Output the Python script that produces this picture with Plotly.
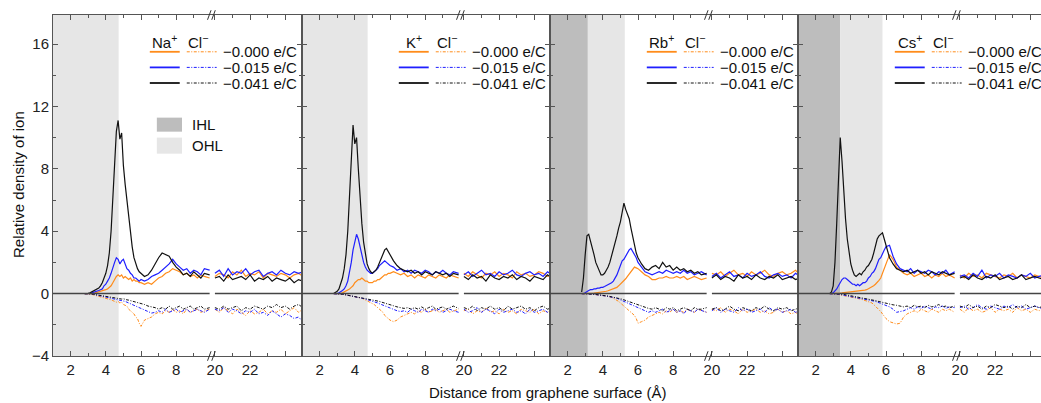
import plotly.graph_objects as go

# ---------------- data ----------------
X_LEFT = [2.8, 2.9, 3.0, 3.1, 3.2, 3.3, 3.4, 3.5, 3.6, 3.7, 3.8, 3.9, 4.0, 4.1, 4.2, 4.3, 4.4,
          4.5, 4.6, 4.7, 4.8, 4.9, 5.0, 5.1, 5.2, 5.3, 5.4, 5.5, 5.6, 5.7, 5.8, 5.9, 6.0,
          6.2, 6.4, 6.6, 6.8, 7.0, 7.2, 7.4, 7.6, 7.8, 8.0, 8.2, 8.4, 8.6, 8.8, 9.0, 9.2, 9.4, 9.6, 9.9]
X_RIGHT = [20.0, 20.25, 20.5, 20.75, 21.0, 21.25, 21.5, 21.75, 22.0, 22.25, 22.5, 22.75,
           23.0, 23.25, 23.5, 23.75, 24.0, 24.25, 24.5, 24.75, 25.0]

CATIONS = ["Na", "K", "Rb", "Cs"]
CHARGES = ["\u22120.000 e/C", "\u22120.015 e/C", "\u22120.041 e/C"]
IHL_END = [None, None, 3.15, 3.4]
OHL_END = [4.73, 4.73, 5.25, 5.8]

# Na+
NA_C0_L = [0, 0, 0, 0, 0, 0.02, 0.05, 0.08, 0.1, 0.12, 0.15, 0.2, 0.25, 0.3, 0.4, 0.5, 0.7, 0.9, 1.1, 1.2, 1.1, 1.2, 1.0, 1.1, 1.0, 0.9, 1.0, 0.8, 0.9, 0.8, 0.8, 0.7, 0.7] + \
          [0.6, 0.7, 0.6, 0.8, 1.0, 1.1, 1.3, 1.4, 1.6, 1.5, 1.4, 1.2, 1.3, 1.1, 1.2, 1.0, 1.2, 1.1, 1.0]
NA_C15_L = [0, 0, 0, 0.02, 0.05, 0.08, 0.1, 0.15, 0.2, 0.25, 0.3, 0.5, 0.6, 0.8, 1.0, 1.3, 1.7, 2.0, 2.3, 2.2, 1.9, 2.1, 2.2, 1.9, 1.6, 1.5, 1.3, 1.2, 1.0, 1.0, 0.9, 0.8, 0.9] + \
           [0.8, 0.9, 1.1, 1.2, 1.3, 1.5, 1.7, 1.9, 2.2, 1.9, 1.7, 1.5, 1.6, 1.3, 1.5, 1.4, 1.2, 1.6, 1.5]
NA_C41_L = [0, 0, 0.02, 0.05, 0.1, 0.15, 0.2, 0.3, 0.35, 0.5, 0.7, 1.0, 1.3, 1.8, 2.6, 4.0, 6.0, 8.2, 10.4, 11.1, 9.9, 10.3, 8.2, 7.0, 5.9, 4.8, 4.0, 3.0, 2.3, 1.9, 1.6, 1.4, 1.3] + \
           [1.1, 1.2, 1.5, 1.9, 2.3, 2.6, 2.5, 2.4, 2.0, 1.7, 1.5, 1.2, 1.3, 1.1, 1.4, 1.2, 1.0, 1.3, 1.2]
NA_A0_L = [0, 0, 0, -0.02, -0.05, -0.08, -0.1, -0.12, -0.15, -0.18, -0.2, -0.25, -0.28, -0.3, -0.35, -0.4, -0.45, -0.5, -0.55, -0.5, -0.6, -0.55, -0.7, -0.75, -0.8, -1.0, -1.1, -1.2, -1.3, -1.5, -1.6, -1.9, -2.1] + \
          [-1.7, -1.6, -1.5, -1.3, -1.2, -1.3, -1.1, -1.2, -1.0, -1.2, -1.1, -1.3, -1.0, -1.2, -1.1, -1.0, -1.2, -1.1, -1.0]
NA_A15_L = [0, 0, 0, 0, -0.02, -0.05, -0.07, -0.1, -0.12, -0.15, -0.17, -0.2, -0.22, -0.25, -0.27, -0.3, -0.32, -0.35, -0.37, -0.4, -0.42, -0.45, -0.48, -0.5, -0.55, -0.6, -0.65, -0.7, -0.75, -0.8, -0.85, -0.9, -1.0] + \
           [-1.1, -1.2, -1.25, -1.2, -1.1, -1.2, -1.0, -1.2, -1.1, -1.0, -1.2, -1.1, -1.0, -1.2, -1.1, -1.0, -1.1, -1.2, -1.0]
NA_A41_L = [0, 0, 0, 0, -0.02, -0.04, -0.06, -0.08, -0.1, -0.12, -0.14, -0.16, -0.18, -0.2, -0.22, -0.24, -0.25, -0.27, -0.3, -0.28, -0.32, -0.35, -0.33, -0.38, -0.4, -0.42, -0.45, -0.48, -0.5, -0.55, -0.6, -0.62, -0.65] + \
           [-0.7, -0.8, -0.85, -0.9, -1.0, -0.9, -1.0, -0.8, -1.0, -0.9, -0.8, -1.0, -0.9, -0.8, -1.0, -0.9, -0.8, -1.0, -0.9]
NA_C0_R = [1.1, 1.3, 1.2, 1.0, 1.4, 1.2, 1.5, 1.1, 1.3, 1.2, 1.4, 1.0, 1.3, 1.2, 1.1, 1.3, 1.2, 1.0, 1.2, 1.3, 1.1]
NA_C15_R = [1.3, 1.5, 1.1, 1.6, 1.2, 1.4, 1.3, 1.6, 1.2, 1.4, 1.5, 1.1, 1.3, 1.4, 1.2, 1.5, 1.3, 1.2, 1.4, 1.3, 1.4]
NA_C41_R = [1.0, 1.1, 0.8, 1.2, 0.9, 1.0, 1.1, 0.9, 1.2, 0.8, 1.0, 0.9, 1.1, 0.8, 1.0, 0.9, 0.8, 1.0, 0.7, 0.9, 0.8]
NA_A0_R = [-1.0, -1.2, -0.9, -1.1, -1.3, -1.0, -1.2, -1.4, -1.1, -1.3, -1.2, -1.0, -1.3, -1.1, -1.2, -1.0, -1.3, -1.1, -0.9, -1.2, -1.0]
NA_A15_R = [-1.0, -1.1, -0.9, -1.2, -1.0, -1.1, -1.3, -1.1, -1.2, -1.0, -1.3, -1.2, -1.4, -1.1, -1.3, -1.5, -1.3, -1.4, -1.6, -1.5, -1.8]
NA_A41_R = [-0.9, -1.0, -0.8, -1.0, -0.9, -0.8, -1.1, -0.9, -1.0, -0.8, -0.9, -1.0, -0.8, -0.9, -0.7, -0.9, -0.8, -1.0, -0.8, -0.7, -0.9]

# K+
K_C0_L = [0, 0, 0, 0, 0.02, 0.05, 0.1, 0.15, 0.2, 0.3, 0.4, 0.5, 0.7, 0.8, 0.9, 0.9, 1.0, 0.9, 0.8, 0.8, 0.7, 0.7, 0.7, 0.8, 0.8, 0.9, 0.9, 1.0, 1.1, 1.2, 1.2, 1.3, 1.3] + \
         [1.4, 1.3, 1.2, 1.3, 1.1, 1.2, 1.0, 1.2, 1.1, 1.0, 1.2, 1.1, 1.0, 1.2, 1.1, 1.0, 1.2, 1.1, 1.0]
K_C15_L = [0, 0, 0, 0.05, 0.1, 0.2, 0.3, 0.5, 0.8, 1.3, 2.0, 2.8, 3.4, 3.8, 3.5, 3.0, 2.4, 2.0, 1.7, 1.5, 1.4, 1.3, 1.3, 1.4, 1.5, 1.6, 1.8, 1.9, 2.0, 2.1, 2.0, 1.9, 1.8] + \
          [1.7, 1.5, 1.6, 1.4, 1.5, 1.3, 1.5, 1.4, 1.3, 1.5, 1.4, 1.2, 1.4, 1.3, 1.5, 1.3, 1.2, 1.4, 1.3]
K_C41_L = [0, 0.05, 0.15, 0.3, 0.6, 1.0, 1.6, 2.5, 4.0, 6.5, 9.0, 10.8, 9.6, 10.0, 8.0, 6.0, 4.5, 3.3, 2.5, 1.9, 1.6, 1.4, 1.3, 1.4, 1.5, 1.7, 2.0, 2.3, 2.6, 2.8, 2.9, 2.7, 2.5] + \
          [2.1, 1.8, 1.6, 1.5, 1.4, 1.5, 1.3, 1.4, 1.2, 1.4, 1.3, 1.2, 1.4, 1.3, 1.2, 1.3, 1.1, 1.3, 1.2]
K_A0_L = [0, 0, 0, 0, -0.02, -0.04, -0.06, -0.08, -0.1, -0.12, -0.15, -0.18, -0.2, -0.22, -0.25, -0.28, -0.3, -0.35, -0.4, -0.45, -0.5, -0.55, -0.6, -0.7, -0.8, -0.9, -1.0, -1.1, -1.2, -1.4, -1.5, -1.6, -1.7] + \
         [-1.8, -1.7, -1.5, -1.4, -1.3, -1.2, -1.3, -1.1, -1.2, -1.0, -1.2, -1.1, -1.0, -1.2, -1.1, -1.0, -1.2, -1.1, -1.0]
K_A15_L = [0, 0, 0, 0, -0.02, -0.04, -0.06, -0.08, -0.1, -0.12, -0.14, -0.16, -0.18, -0.2, -0.23, -0.26, -0.29, -0.32, -0.35, -0.38, -0.41, -0.44, -0.47, -0.5, -0.55, -0.6, -0.65, -0.7, -0.75, -0.8, -0.85, -0.9, -0.95] + \
          [-1.0, -1.1, -1.15, -1.1, -1.2, -1.0, -1.1, -1.2, -1.0, -1.1, -1.2, -1.0, -1.1, -1.0, -1.2, -1.1, -1.0, -1.1, -1.2]
K_A41_L = [0, 0, 0, 0, -0.02, -0.04, -0.06, -0.08, -0.1, -0.12, -0.14, -0.16, -0.18, -0.2, -0.22, -0.24, -0.26, -0.28, -0.3, -0.32, -0.34, -0.36, -0.38, -0.4, -0.43, -0.46, -0.5, -0.54, -0.58, -0.62, -0.66, -0.7, -0.72] + \
          [-0.78, -0.85, -0.9, -0.95, -0.9, -1.0, -0.9, -1.0, -0.85, -1.0, -0.9, -0.8, -1.0, -0.9, -0.85, -1.0, -0.9, -0.8, -0.95]
K_C0_R = [1.3, 1.1, 1.4, 1.2, 1.0, 1.3, 1.2, 1.4, 1.1, 1.3, 1.2, 1.0, 1.4, 1.2, 1.3, 1.1, 1.2, 1.4, 1.3, 1.1, 1.2]
K_C15_R = [1.2, 1.4, 1.1, 1.3, 1.5, 1.2, 1.3, 1.1, 1.4, 1.2, 1.3, 1.5, 1.2, 1.1, 1.3, 1.4, 1.2, 1.3, 1.1, 1.4, 1.2]
K_C41_R = [1.1, 0.9, 1.2, 1.0, 1.1, 0.8, 1.2, 1.0, 0.9, 1.1, 1.0, 1.2, 0.9, 1.1, 1.0, 0.8, 1.1, 1.0, 0.9, 1.2, 1.0]
K_A0_R = [-1.1, -1.0, -1.3, -1.1, -1.2, -0.9, -1.2, -1.1, -1.3, -1.0, -1.2, -1.1, -1.3, -1.0, -1.1, -1.2, -1.0, -1.3, -1.1, -1.2, -1.0]
K_A15_R = [-1.0, -1.2, -1.1, -0.9, -1.2, -1.0, -1.1, -1.3, -1.0, -1.2, -1.1, -1.0, -1.2, -1.1, -1.3, -1.0, -1.2, -1.1, -1.0, -1.2, -1.1]
K_A41_R = [-0.9, -1.0, -0.8, -1.1, -0.9, -1.0, -0.8, -1.0, -0.9, -1.1, -0.8, -1.0, -0.9, -0.8, -1.0, -0.9, -1.1, -0.9, -0.8, -1.0, -0.9]

# Rb+
RB_C0_L = [0, 0, 0, 0, 0, 0, 0.02, 0.03, 0.05, 0.06, 0.08, 0.09, 0.1, 0.12, 0.15, 0.18, 0.22, 0.26, 0.3, 0.35, 0.4, 0.5, 0.6, 0.7, 0.8, 0.95, 1.1, 1.25, 1.4, 1.55, 1.7, 1.65, 1.6] + \
          [1.4, 1.2, 1.1, 0.9, 0.9, 1.0, 1.0, 1.1, 1.0, 1.0, 1.1, 1.0, 1.1, 0.9, 1.0, 1.1, 1.0, 0.9, 1.0]
RB_C15_L = [0, 0, 0.05, 0.15, 0.2, 0.25, 0.25, 0.3, 0.3, 0.35, 0.35, 0.4, 0.4, 0.45, 0.5, 0.55, 0.6, 0.7, 0.8, 1.0, 1.2, 1.5, 1.8, 2.1, 2.2, 2.4, 2.6, 2.8, 2.9, 2.7, 2.5, 2.3, 2.0] + \
           [1.7, 1.4, 1.3, 1.2, 1.3, 1.4, 1.3, 1.5, 1.4, 1.3, 1.4, 1.3, 1.5, 1.3, 1.4, 1.2, 1.3, 1.4, 1.2]
RB_C41_L = [0.1, 1.0, 2.5, 3.7, 3.8, 3.4, 2.9, 2.5, 2.0, 1.7, 1.4, 1.2, 1.2, 1.3, 1.5, 1.7, 2.0, 2.4, 2.8, 3.2, 3.7, 4.2, 4.6, 5.2, 5.8, 5.4, 5.1, 4.8, 4.2, 3.6, 3.0, 2.6, 2.3] + \
           [1.9, 1.6, 1.5, 1.7, 1.8, 1.6, 2.0, 1.7, 1.8, 1.5, 1.7, 1.5, 1.6, 1.4, 1.5, 1.3, 1.4, 1.2, 1.3]
RB_A0_L = [0, 0, 0, 0, -0.02, -0.03, -0.04, -0.05, -0.06, -0.07, -0.08, -0.1, -0.12, -0.14, -0.16, -0.18, -0.2, -0.25, -0.3, -0.35, -0.4, -0.5, -0.6, -0.7, -0.8, -0.9, -1.0, -1.1, -1.2, -1.3, -1.4, -1.6, -1.9] + \
          [-1.8, -1.7, -1.5, -1.4, -1.3, -1.2, -1.3, -1.1, -1.2, -1.0, -1.2, -1.1, -1.2, -1.0, -1.1, -1.2, -1.0, -1.1, -1.2]
RB_A15_L = [0, 0, 0, 0, -0.02, -0.03, -0.04, -0.05, -0.06, -0.07, -0.08, -0.1, -0.12, -0.14, -0.16, -0.18, -0.2, -0.22, -0.25, -0.28, -0.3, -0.35, -0.4, -0.45, -0.5, -0.55, -0.6, -0.65, -0.7, -0.75, -0.8, -0.85, -0.9] + \
           [-1.0, -1.1, -1.2, -1.1, -1.2, -1.1, -1.0, -1.2, -1.1, -1.0, -1.2, -1.1, -1.3, -1.0, -1.1, -1.2, -1.0, -1.1, -1.2]
RB_A41_L = [0, 0, 0, 0, -0.01, -0.02, -0.03, -0.04, -0.05, -0.06, -0.07, -0.08, -0.1, -0.12, -0.14, -0.16, -0.18, -0.2, -0.22, -0.25, -0.28, -0.3, -0.33, -0.36, -0.4, -0.44, -0.48, -0.52, -0.56, -0.6, -0.65, -0.7, -0.75] + \
           [-0.8, -0.9, -0.95, -1.0, -0.9, -1.0, -1.1, -0.9, -1.0, -0.9, -1.1, -1.0, -0.9, -1.0, -1.1, -0.9, -1.0, -1.0, -0.9]
RB_C0_R = [1.3, 1.2, 1.4, 1.1, 1.3, 1.5, 1.2, 1.3, 1.1, 1.4, 1.2, 1.3, 1.5, 1.2, 1.1, 1.3, 1.4, 1.2, 1.3, 1.5, 1.2]
RB_C15_R = [1.1, 1.3, 1.0, 1.2, 1.4, 1.1, 1.2, 1.0, 1.3, 1.1, 1.2, 1.4, 1.1, 1.0, 1.2, 1.3, 1.1, 1.2, 1.0, 1.3, 1.1]
RB_C41_R = [1.0, 1.2, 0.9, 1.1, 1.0, 0.8, 1.2, 1.0, 1.1, 0.9, 1.2, 1.0, 0.9, 1.1, 1.0, 1.2, 0.9, 1.0, 1.1, 0.9, 1.0]
RB_A0_R = [-1.0, -1.1, -0.9, -1.2, -1.0, -1.1, -1.3, -1.0, -1.2, -1.1, -1.0, -1.2, -1.1, -1.3, -1.2, -1.0, -1.2, -1.1, -1.3, -1.2, -1.4]
RB_A15_R = [-1.1, -0.9, -1.2, -1.0, -1.1, -1.2, -0.9, -1.1, -1.0, -1.2, -1.1, -1.0, -1.2, -0.9, -1.1, -1.0, -1.2, -1.1, -1.0, -1.2, -1.1]
RB_A41_R = [-1.0, -0.9, -1.1, -1.0, -0.8, -1.0, -1.1, -0.9, -1.0, -1.1, -0.9, -1.0, -0.8, -1.0, -1.1, -0.9, -1.0, -0.9, -1.1, -1.0, -0.9]

# Cs+
CS_C0_L = [0, 0, 0, 0, 0.02, 0.03, 0.04, 0.05, 0.06, 0.07, 0.08, 0.09, 0.1, 0.11, 0.12, 0.13, 0.14, 0.15, 0.18, 0.2, 0.22, 0.25, 0.3, 0.35, 0.4, 0.5, 0.6, 0.7, 0.85, 1.0, 1.3, 1.6, 1.9] + \
          [2.5, 2.2, 1.7, 1.5, 1.3, 1.2, 1.3, 1.1, 1.2, 1.3, 1.1, 1.2, 1.0, 1.2, 1.1, 1.3, 1.1, 1.2, 1.0]
CS_C15_L = [0, 0, 0.05, 0.15, 0.3, 0.5, 0.7, 0.9, 1.0, 1.0, 0.9, 0.8, 0.7, 0.6, 0.6, 0.5, 0.6, 0.5, 0.6, 0.7, 0.7, 0.8, 1.0, 1.1, 1.3, 1.4, 1.6, 1.9, 2.2, 2.3, 2.6, 2.8, 3.0] + \
           [3.1, 2.4, 1.9, 1.6, 1.5, 1.4, 1.6, 1.3, 1.5, 1.4, 1.3, 1.5, 1.4, 1.2, 1.4, 1.3, 1.5, 1.2, 1.4]
CS_C41_L = [0, 0.1, 0.5, 2.0, 4.5, 7.5, 10.0, 8.5, 6.5, 4.8, 3.5, 2.5, 1.9, 1.5, 1.2, 1.1, 1.2, 1.3, 1.2, 1.4, 1.5, 1.7, 1.8, 2.0, 2.2, 2.6, 3.0, 3.5, 3.7, 3.8, 3.9, 3.5, 3.1] + \
           [2.3, 1.9, 1.6, 1.5, 1.4, 1.5, 1.3, 1.4, 1.5, 1.3, 1.4, 1.2, 1.4, 1.3, 1.2, 1.4, 1.3, 1.2, 1.3]
CS_A0_L = [0, 0, 0, -0.02, -0.04, -0.06, -0.08, -0.1, -0.12, -0.14, -0.16, -0.18, -0.2, -0.22, -0.25, -0.28, -0.3, -0.33, -0.36, -0.4, -0.44, -0.48, -0.5, -0.55, -0.6, -0.7, -0.8, -0.9, -1.0, -1.15, -1.3, -1.45, -1.6] + \
          [-1.8, -1.9, -1.95, -1.9, -1.5, -1.3, -1.2, -1.1, -1.2, -1.0, -1.1, -1.2, -1.0, -1.1, -1.2, -1.0, -1.1, -1.0, -1.2]
CS_A15_L = [0, 0, 0, 0, -0.02, -0.04, -0.06, -0.08, -0.1, -0.12, -0.14, -0.16, -0.18, -0.2, -0.22, -0.24, -0.26, -0.28, -0.3, -0.32, -0.34, -0.36, -0.38, -0.4, -0.43, -0.46, -0.5, -0.54, -0.58, -0.62, -0.66, -0.7, -0.75] + \
           [-0.85, -1.0, -1.2, -1.15, -1.1, -1.0, -0.9, -1.0, -0.85, -0.95, -0.8, -0.9, -1.0, -0.85, -0.9, -0.8, -0.95, -0.85, -0.9]
CS_A41_L = [0, 0, 0, 0, -0.01, -0.02, -0.03, -0.04, -0.05, -0.07, -0.09, -0.11, -0.13, -0.15, -0.17, -0.19, -0.21, -0.23, -0.25, -0.27, -0.29, -0.31, -0.33, -0.36, -0.39, -0.42, -0.45, -0.48, -0.51, -0.54, -0.57, -0.6, -0.63] + \
           [-0.68, -0.72, -0.75, -0.8, -0.85, -0.8, -0.9, -0.75, -0.85, -0.8, -0.9, -0.75, -0.85, -0.8, -0.7, -0.85, -0.8, -0.9, -0.8]
CS_C0_R = [1.2, 1.0, 1.3, 1.1, 1.2, 1.0, 1.3, 1.2, 1.1, 1.0, 1.2, 1.1, 1.3, 1.0, 1.2, 1.1, 1.0, 1.2, 1.1, 1.0, 1.2]
CS_C15_R = [1.1, 1.2, 1.0, 1.3, 1.1, 1.5, 1.0, 1.2, 1.1, 1.3, 1.0, 1.2, 1.1, 1.0, 1.2, 1.1, 1.3, 1.0, 1.1, 1.2, 1.0]
CS_C41_R = [1.0, 1.1, 0.9, 1.2, 1.0, 0.9, 1.1, 1.0, 1.2, 0.9, 1.0, 1.1, 0.9, 1.0, 1.2, 0.9, 1.0, 1.1, 1.0, 0.9, 1.1]
CS_A0_R = [-1.0, -1.2, -0.9, -1.1, -1.0, -1.2, -1.1, -0.9, -1.2, -1.0, -1.1, -1.0, -1.2, -0.9, -1.1, -1.0, -1.2, -1.0, -1.1, -0.9, -1.0]
CS_A15_R = [-0.9, -0.8, -1.0, -0.9, -0.7, -0.9, -1.0, -0.8, -0.9, -1.0, -0.8, -0.9, -0.7, -0.9, -0.8, -1.0, -0.9, -0.8, -0.9, -1.0, -0.8]
CS_A41_R = [-0.8, -0.9, -0.7, -0.9, -0.8, -1.0, -0.8, -0.9, -0.7, -0.8, -0.9, -0.8, -1.0, -0.8, -0.9, -0.7, -0.9, -0.8, -0.9, -0.8, -0.9]

# (cation_left, cation_right, anion_left, anion_right) per charge, per panel
PANELS = [
    [(NA_C0_L, NA_C0_R, NA_A0_L, NA_A0_R), (NA_C15_L, NA_C15_R, NA_A15_L, NA_A15_R), (NA_C41_L, NA_C41_R, NA_A41_L, NA_A41_R)],
    [(K_C0_L, K_C0_R, K_A0_L, K_A0_R), (K_C15_L, K_C15_R, K_A15_L, K_A15_R), (K_C41_L, K_C41_R, K_A41_L, K_A41_R)],
    [(RB_C0_L, RB_C0_R, RB_A0_L, RB_A0_R), (RB_C15_L, RB_C15_R, RB_A15_L, RB_A15_R), (RB_C41_L, RB_C41_R, RB_A41_L, RB_A41_R)],
    [(CS_C0_L, CS_C0_R, CS_A0_L, CS_A0_R), (CS_C15_L, CS_C15_R, CS_A15_L, CS_A15_R), (CS_C41_L, CS_C41_R, CS_A41_L, CS_A41_R)],
]

# ---------------- styling / layout ----------------
W, H = 1041, 403
PANEL_PX = [(53, 302), (302, 550), (550, 798), (798, 1041)]
PX_PER_UNIT = 17.6
BREAK_SHIFT = 9.8          # x >= 20 is drawn at x - 9.8 (broken axis)
COLORS = ["#ff8c1a", "#1f1fff", "#111111"]
AXIS_COL = "#555555"
FONT = "Liberation Sans, Arial, sans-serif"
ANION_DASH = "3px,1.5px,1px,1.5px"
T_MARGIN, B_MARGIN = 15, 47
Y_RANGE = [-4, -4 + (H - T_MARGIN - B_MARGIN) / 15.6]


def brk(xs):
    return [x if x < 15 else x - BREAK_SHIFT for x in xs]


fig = go.Figure()
shapes, annotations = [], []

for p in range(4):
    n = "" if p == 0 else str(p + 1)
    xref, yref = "x" + n, "y" + n
    # traces: anions then cations, orange, blue, black
    for kind in (2, 0):
        for q in range(3):
            left, right = PANELS[p][q][kind], PANELS[p][q][kind + 1]
            if kind == 0:
                line = dict(color=COLORS[q], width=1.2)
            else:
                line = dict(color=COLORS[q], width=1.0, dash=ANION_DASH)
            for xs, ys in ((X_LEFT, left), (X_RIGHT, right)):
                fig.add_trace(go.Scatter(x=brk(xs), y=ys, mode="lines", line=line,
                                         xaxis=xref, yaxis=yref, showlegend=False, hoverinfo="skip"))

    left_px, right_px = PANEL_PX[p]
    xmax = 1 + (right_px - left_px) / PX_PER_UNIT
    fig.layout["xaxis" + n] = dict(
        domain=[left_px / W, right_px / W], range=[1, xmax], anchor=yref,
        tickmode="array", tickvals=[2, 4, 6, 8, 10.2, 12.2, 14.2],
        ticktext=["2", "4", "6", "8", "20", "22", ""],
        ticks="inside", ticklen=5, tickwidth=1, tickcolor=AXIS_COL,
        minor=dict(tickmode="array", tickvals=[3, 5, 7, 9, 11.2, 13.2],
                   ticks="inside", ticklen=3, tickcolor=AXIS_COL),
        showline=True, linecolor=AXIS_COL, linewidth=1, mirror="ticks",
        showgrid=False, zeroline=False, tickfont=dict(size=15, color="#222", family=FONT))
    fig.layout["yaxis" + n] = dict(
        domain=[0, 1], range=Y_RANGE, anchor=xref,
        tickmode="array", tickvals=[-4, 0, 4, 8, 12, 16], showticklabels=(p == 0),
        ticks="inside", ticklen=5, tickwidth=1, tickcolor=AXIS_COL,
        minor=dict(tickmode="array", tickvals=[-2, 2, 6, 10, 14],
                   ticks="inside", ticklen=3, tickcolor=AXIS_COL),
        showline=True, linecolor=AXIS_COL, linewidth=1, mirror=("ticks" if p < 3 else False),
        showgrid=False, zeroline=False, tickfont=dict(size=15, color="#222", family=FONT))

    # IHL / OHL shading
    ohl_start = 1
    if IHL_END[p] is not None:
        shapes.append(dict(type="rect", xref=xref, yref="paper", x0=1, x1=IHL_END[p], y0=0, y1=1,
                           fillcolor="#bdbdbd", line=dict(width=0), layer="below"))
        ohl_start = IHL_END[p]
    shapes.append(dict(type="rect", xref=xref, yref="paper", x0=ohl_start, x1=OHL_END[p], y0=0, y1=1,
                       fillcolor="#e6e6e6", line=dict(width=0), layer="below"))

    # zero line with break gap
    for x0, x1 in ((1, 9.9), (10.2, xmax)):
        shapes.append(dict(type="line", xref=xref, yref=yref, x0=x0, x1=x1, y0=0, y1=0,
                           line=dict(color="#444", width=1.5)))

    # axis break marks (two short slanted strokes) at bottom and top
    for yy in (0, 1):
        for dx in (-0.12, 0.12):
            shapes.append(dict(type="line", xref=xref, yref="paper",
                               x0=10.0 + dx - 0.1, x1=10.0 + dx + 0.1,
                               y0=yy - 0.014, y1=yy + 0.014,
                               line=dict(color="#333", width=1)))

    # legend: header
    annotations.append(dict(text=CATIONS[p] + "<sup>+</sup>", xref=xref, yref=yref, x=7.36, y=16.15,
                            showarrow=False, xanchor="center", yanchor="middle",
                            font=dict(size=15, color="#111", family=FONT)))
    annotations.append(dict(text="Cl<sup>\u2212</sup>", xref=xref, yref=yref, x=9.24, y=16.15,
                            showarrow=False, xanchor="center", yanchor="middle",
                            font=dict(size=15, color="#111", family=FONT)))
    for q, yy in enumerate((15.5, 14.5, 13.5)):
        shapes.append(dict(type="line", xref=xref, yref=yref, x0=6.5, x1=8.2, y0=yy, y1=yy,
                           line=dict(color=COLORS[q], width=1.8)))
        shapes.append(dict(type="line", xref=xref, yref=yref, x0=8.6, x1=10.3, y0=yy, y1=yy,
                           line=dict(color=COLORS[q], width=1, dash=ANION_DASH)))
        annotations.append(dict(text=CHARGES[q], xref=xref, yref=yref, x=10.55, y=yy,
                                showarrow=False, xanchor="left", yanchor="middle",
                                font=dict(size=15, color="#111", family=FONT)))

# IHL / OHL key in first panel
shapes.append(dict(type="rect", xref="x", yref="y", x0=6.9, x1=8.33, y0=10.38, y1=11.28,
                   fillcolor="#bdbdbd", line=dict(width=0)))
shapes.append(dict(type="rect", xref="x", yref="y", x0=6.9, x1=8.33, y0=8.97, y1=10.0,
                   fillcolor="#e6e6e6", line=dict(width=0)))
annotations.append(dict(text="IHL", xref="x", yref="y", x=8.78, y=10.83, showarrow=False,
                        xanchor="left", yanchor="middle", font=dict(size=15, color="#111", family=FONT)))
annotations.append(dict(text="OHL", xref="x", yref="y", x=8.78, y=9.48, showarrow=False,
                        xanchor="left", yanchor="middle", font=dict(size=15, color="#111", family=FONT)))

# axis titles
plot_h = H - T_MARGIN - B_MARGIN
annotations.append(dict(text="Distance from graphene surface (\u00c5)", xref="paper", yref="paper",
                        x=548 / W, y=(356 - 393) / plot_h, showarrow=False,
                        xanchor="center", yanchor="middle", font=dict(size=15, color="#111", family=FONT)))
annotations.append(dict(text="Relative density of ion", xref="paper", yref="paper",
                        x=18 / W, y=(356 - 185) / plot_h, showarrow=False, textangle=-90,
                        xanchor="center", yanchor="middle", font=dict(size=15, color="#111", family=FONT)))

fig.update_layout(width=W, height=H, margin=dict(l=0, r=0, t=T_MARGIN, b=B_MARGIN),
                  paper_bgcolor="white", plot_bgcolor="white", showlegend=False,
                  shapes=shapes, annotations=annotations, font=dict(family=FONT))

fig.write_html("out.html")
